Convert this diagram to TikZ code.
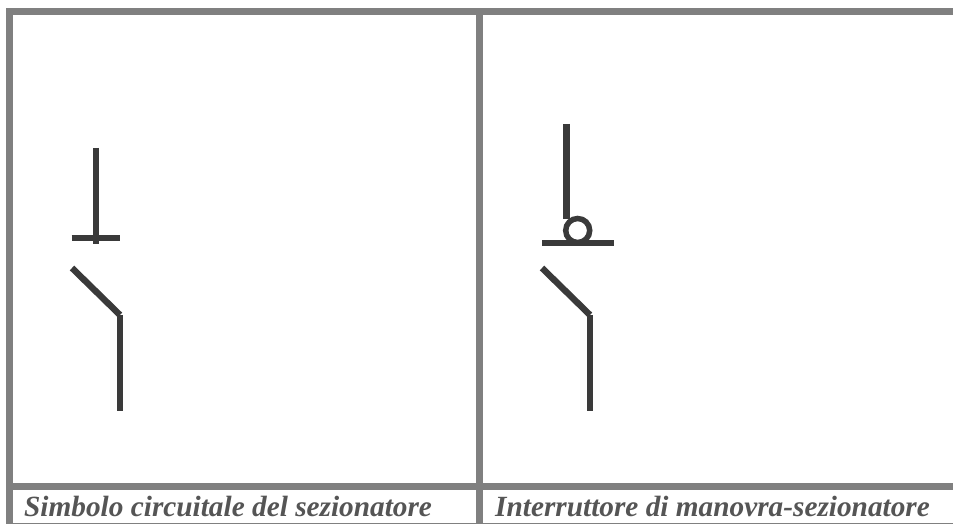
\documentclass[tikz,border=0pt]{standalone}
\usepackage{fontspec}
\setmainfont{Liberation Serif}
\definecolor{framegray}{HTML}{808080}
\definecolor{symdark}{HTML}{3A3A3A}
\definecolor{capgray}{HTML}{555555}
\tikzset{
  framebar/.style={fill=framegray,draw=none},
  symline/.style={draw=symdark,line width=6.4pt,line cap=butt},
  captxt/.style={text=capgray,font=\fontsize{29.3}{32}\selectfont\bfseries\itshape,anchor=base west,inner sep=0pt}
}
\begin{document}
\begin{tikzpicture}[x=1pt,y=-1pt]
\useasboundingbox (0,0) rectangle (953,524);
\fill[white] (0,0) rectangle (953,524);
% frame
\fill[framebar] (6,8) rectangle (953,15);
\fill[framebar] (6,8) rectangle (13,524);
\fill[framebar] (476,8) rectangle (483,524);
\fill[framebar] (6,483) rectangle (953,490);
\fill[framebar] (6,522.5) rectangle (953,524);
% left symbol
\draw[symline] (96,148) -- (96,243.5);
\draw[symline] (71.5,238) -- (120,238);
\draw[symline] (72,268) -- (120,315);
\draw[symline] (120,315) -- (120,411);
% right symbol
\draw[symline] (566.5,124) -- (566.5,219);
\draw[symdark,line width=5.5pt] (577.7,230.5) circle (12);
\draw[symline] (542,243) -- (614,243);
\draw[symline] (542,268) -- (590,315);
\draw[symline] (590,315) -- (590,411);
% captions
\node[captxt] (capleft) at (24,516) {Simbolo circuitale del sezionatore};
\node[captxt] (capright) at (495,516) {Interruttore di manovra-sezionatore};
\end{tikzpicture}
\end{document}
